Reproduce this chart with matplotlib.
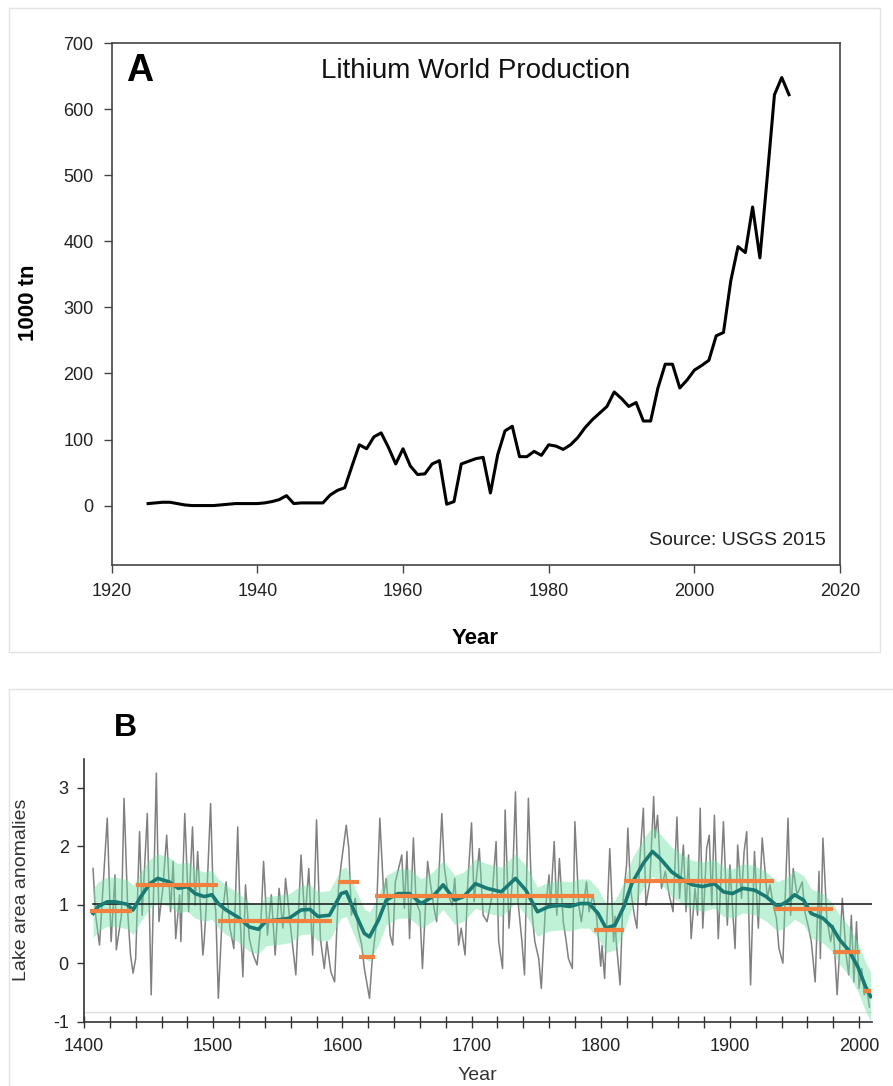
import numpy as np
import matplotlib.pyplot as plt
from matplotlib.patches import Rectangle

plt.rcParams['axes.unicode_minus'] = False

W, H = 893, 1086

# ---- panel A: lithium world production (1000 tn) ----
li_years = list(range(1925, 2014))
li_prod = [3, 4, 5, 5, 3, 1, 0, 0, 0, 0,
           1, 2, 3, 3, 3, 3, 4, 6, 9, 15,
           3, 4, 4, 4, 4, 16, 23, 27, 60, 92,
           86, 104, 110, 88, 63, 86, 60, 47, 48, 63,
           68, 2, 6, 63, 67, 71, 73, 19, 77, 113,
           120, 74, 74, 82, 76, 92, 90, 85, 92, 103,
           118, 130, 140, 150, 172, 162, 150, 156, 128, 128,
           178, 214, 214, 178, 190, 205, 212, 220, 257, 262,
           340, 392, 383, 452, 375, 496, 622, 648, 622]
a_xticks = [1920, 1940, 1960, 1980, 2000, 2020]
a_yticks = [0, 100, 200, 300, 400, 500, 600, 700]

# ---- panel B: lake area anomalies ----
lake_years = [1407, 1409, 1412, 1415, 1418, 1421, 1424, 1425, 1429, 1431,
              1434, 1436, 1438, 1440, 1443, 1445, 1449, 1452, 1456, 1458,
              1461, 1464, 1467, 1469, 1471, 1474, 1475, 1478, 1481, 1484,
              1486, 1488, 1492, 1493, 1495, 1498, 1500, 1502, 1504, 1507,
              1510, 1513, 1516, 1519, 1521, 1523, 1525, 1528, 1531, 1534,
              1537, 1539, 1542, 1545, 1548, 1551, 1554, 1556, 1560, 1564,
              1568, 1571, 1574, 1577, 1580, 1583, 1586, 1588, 1591, 1594,
              1597, 1599, 1603, 1605, 1607, 1610, 1612, 1615, 1617, 1621,
              1623, 1626, 1629, 1632, 1634, 1637, 1639, 1641, 1643, 1646,
              1648, 1650, 1652, 1655, 1657, 1660, 1662, 1666, 1668, 1671,
              1673, 1677, 1679, 1682, 1685, 1687, 1690, 1692, 1695, 1697,
              1700, 1702, 1706, 1709, 1712, 1716, 1719, 1721, 1724, 1726,
              1729, 1732, 1734, 1736, 1739, 1741, 1744, 1747, 1749, 1752,
              1754, 1757, 1760, 1761, 1764, 1766, 1768, 1771, 1773, 1775,
              1778, 1780, 1783, 1785, 1789, 1791, 1794, 1797, 1800, 1801,
              1803, 1807, 1810, 1811, 1812, 1815, 1817, 1820, 1821, 1823,
              1826, 1828, 1830, 1833, 1835, 1838, 1841, 1842, 1844, 1847,
              1850, 1853, 1856, 1859, 1861, 1864, 1866, 1868, 1870, 1873,
              1875, 1877, 1879, 1882, 1884, 1886, 1888, 1891, 1895, 1898,
              1900, 1904, 1906, 1909, 1911, 1913, 1916, 1919, 1922, 1925,
              1929, 1931, 1934, 1936, 1938, 1941, 1945, 1947, 1949, 1952,
              1956, 1958, 1961, 1963, 1966, 1969, 1970, 1972, 1975, 1978,
              1980, 1983, 1985, 1987, 1990, 1992, 1994, 1996, 1998, 2000,
              2002, 2004, 2006, 2008]
lake_vals = [1.62, 0.82, 0.31, 1.39, 2.48, 0.37, 1.51, 0.23, 0.82, 2.82,
             0.82, 0.14, -0.17, 0.08, 2.25, 0.82, 2.56, -0.54, 3.25, 0.71,
             1.28, 2.19, 0.88, 1.74, 0.42, 1.17, 0.37, 2.56, 0.88, 2.33,
             0.99, 1.91, 0.14, 0.37, 1.11, 2.73, 1.17, 0.9, -0.6, 0.82,
             1.39, 0.6, 0.25, 2.33, 0.71, -0.23, 1.34, 0.42, 0.14, -0.03,
             0.71, 1.74, 0.48, 1.17, 0.14, 1.28, 0.6, 1.45, 0.6, -0.2,
             1.85, 0.71, 1.62, 0.14, 2.45, 0.42, -0.09, 0.37, -0.14, -0.32,
             1.28, 1.68, 2.36, 1.96, 0.82, 1.11, 0.6, 0.31, -0.09, -0.6,
             0.03, 0.6, 2.48, 1.17, 1.45, 0.48, 0.31, 1.39, 1.57, 1.85,
             0.94, 1.91, 0.42, 2.14, 1.05, 0.88, -0.09, 1.74, 1.39, 0.94,
             0.71, 2.56, 1.62, 1.17, 0.99, 1.45, 0.31, 0.6, 0.14, 1.34,
             2.4, 1.05, 1.96, 0.82, 0.71, 1.17, 2.08, 0.37, -0.09, 2.62,
             0.6, 1.57, 2.93, 1.05, 0.37, -0.2, 2.82, 0.82, 0.37, 0.08,
             -0.43, 0.88, 1.51, 0.94, 2.08, 0.82, 1.79, 0.71, 0.42, 0.08,
             -0.09, 2.42, 0.99, 0.71, 1.39, 0.88, 1.17, 0.75, -0.05, 0.3,
             -0.26, 1.96, 0.37, 0.8, 0.37, -0.37, 0.99, 1.68, 2.31, 1.28,
             0.82, 0.6, 1.68, 2.65, 0.99, 1.39, 2.85, 2.14, 2.53, 1.28,
             1.57, 1.17, 0.88, 2.5, 1.11, 2.02, 0.88, 1.85, 0.42, 1.28,
             0.82, 2.65, 0.6, 1.96, 2.19, 0.99, 2.53, 0.42, 2.42, 0.65,
             1.68, 0.25, 2.02, 1.11, 1.91, 2.25, -0.37, 1.91, 0.6, 2.14,
             1.11, 1.34, 0.94, 0.77, 0.25, 0.0, 2.48, 0.82, 1.62, 1.17,
             1.39, 0.88, 0.6, 0.37, -0.32, 1.57, 0.08, 2.14, 0.77, 0.37,
             0.65, -0.54, 0.25, 1.11, 0.14, -0.2, 0.82, -0.32, 0.71, -0.43,
             -0.09, -0.54, -0.43, -0.75]

smooth_years = [1407, 1411, 1418, 1424, 1433, 1438, 1444, 1451, 1457, 1466,
                1473, 1480, 1486, 1493, 1499, 1504, 1510, 1519, 1528, 1535,
                1541, 1550, 1559, 1568, 1575, 1581, 1590, 1599, 1603, 1610,
                1617, 1621, 1628, 1634, 1643, 1652, 1661, 1670, 1678, 1687,
                1694, 1703, 1712, 1723, 1734, 1742, 1751, 1760, 1769, 1776,
                1784, 1791, 1798, 1804, 1811, 1818, 1824, 1833, 1840, 1846,
                1855, 1864, 1871, 1879, 1888, 1895, 1902, 1910, 1919, 1928,
                1937, 1944, 1950, 1957, 1963, 1972, 1979, 1985, 1992, 1999,
                2005, 2009]
smooth_vals = [0.85, 0.97, 1.05, 1.05, 1.01, 0.91, 1.14, 1.36, 1.45, 1.39,
               1.28, 1.31, 1.19, 1.14, 1.17, 1.02, 0.91, 0.79, 0.62, 0.58,
               0.72, 0.74, 0.77, 0.91, 0.92, 0.80, 0.82, 1.19, 1.22, 0.85,
               0.51, 0.45, 0.74, 1.08, 1.19, 1.19, 1.02, 1.14, 1.34, 1.08,
               1.14, 1.36, 1.28, 1.22, 1.45, 1.25, 0.88, 0.97, 0.99, 0.97,
               1.02, 1.02, 0.85, 0.60, 0.65, 0.97, 1.36, 1.71, 1.91, 1.79,
               1.56, 1.42, 1.34, 1.31, 1.36, 1.22, 1.19, 1.28, 1.25, 1.14,
               0.97, 1.05, 1.17, 1.08, 0.85, 0.77, 0.62, 0.40, 0.22, -0.06,
               -0.40, -0.57]
band_half = 0.42

# regime means (start, end, level)
seg_start = [1405, 1440, 1504, 1597, 1613, 1625, 1795, 1818, 1934, 1980, 2003]
seg_end = [1437, 1504, 1592, 1613, 1625, 1795, 1818, 1934, 1980, 2001, 2009]
seg_level = [0.90, 1.34, 0.73, 1.38, 0.10, 1.15, 0.56, 1.41, 0.93, 0.20, -0.48]
ref_level = 1.02

b_xticks = [1400, 1500, 1600, 1700, 1800, 1900, 2000]
b_yticks = [-1, 0, 1, 2, 3]


def px_box(left, top, right, bottom):
    return [left / W, 1 - bottom / H, (right - left) / W, (bottom - top) / H]


fig = plt.figure(figsize=(W / 100, H / 100), dpi=100)
sans = ['Liberation Sans', 'DejaVu Sans']

# light panel frames
fig.add_artist(Rectangle((8.5 / W, 1 - 652 / H), (880 - 8.5) / W, (652 - 8.4) / H,
                         transform=fig.transFigure, fill=False, ec='#e2e2e2', lw=1))
fig.add_artist(Rectangle((8.5 / W, -0.01), 1.0, 1 - 689 / H + 0.01,
                         transform=fig.transFigure, fill=False, ec='#e2e2e2', lw=1))

# ---------- A ----------
ax = fig.add_axes(px_box(111.7, 43.2, 840, 565))
ax.plot(li_years, li_prod, color='black', lw=2.2)
ax.set_xlim(1920, 2020)
ax.set_ylim(-90, 700)
ax.set_xticks(a_xticks)
ax.set_yticks(a_yticks)
for s in ax.spines.values():
    s.set_color('#444444')
    s.set_linewidth(1.2)
ax.tick_params(direction='out', length=6, width=1, color='#444444',
               labelsize=13, labelcolor='#222222', pad=7)
for lab in ax.get_xticklabels() + ax.get_yticklabels():
    lab.set_family(sans)
ax.text(0.039, 0.947, 'A', transform=ax.transAxes, ha='center', va='center',
        fontsize=27, fontweight='bold', family=sans)
ax.text(0.5, 0.947, 'Lithium World Production', transform=ax.transAxes,
        ha='center', va='center', fontsize=20, family=sans, color='#111111')
ax.text(0.981, 0.047, 'Source: USGS 2015', transform=ax.transAxes,
        ha='right', va='center', fontsize=14, family=sans, color='#222222')
fig.text(28 / W, 1 - 303 / H, '1000 tn', rotation=90, ha='center', va='center',
         fontsize=16, fontweight='bold', family=sans)
fig.text(475 / W, 1 - 639 / H, 'Year', ha='center', va='center',
         fontsize=16, fontweight='bold', family=sans)

# ---------- B ----------
bx = fig.add_axes(px_box(84, 758.5, 872, 1021.7))
bx.axhline(-0.83, color='#e0e0e0', lw=1, zorder=1)
bx.plot(lake_years, lake_vals, color='#808080', lw=1.1, zorder=2)
sm = np.array(smooth_vals)
bx.fill_between(smooth_years, sm - band_half, sm + band_half,
                color='#6fe0a6', alpha=0.45, lw=0, zorder=3)
bx.plot([smooth_years[0], 2010], [ref_level, ref_level], color='#222222',
        lw=1.2, zorder=4)
bx.plot(smooth_years, smooth_vals, color='#197a74', lw=2.6, zorder=5)
bx.hlines(seg_level, seg_start, seg_end, color='#f2813f', lw=3, zorder=6)
bx.set_xlim(1400, 2010)
bx.set_ylim(-1, 3.5)
bx.spines['top'].set_visible(False)
bx.spines['right'].set_visible(False)
for s in ['left', 'bottom']:
    bx.spines[s].set_color('#333333')
    bx.spines[s].set_linewidth(1.2)
bx.set_xticks(b_xticks)
bx.set_xticks(range(1400, 2011, 20), minor=True)
bx.set_yticks(b_yticks)
bx.tick_params(axis='x', which='both', direction='inout', length=8, width=1,
               color='#333333', labelsize=13, pad=8)
bx.tick_params(axis='y', direction='out', length=5, width=1, color='#333333',
               labelsize=13, pad=6)
for lab in bx.get_xticklabels() + bx.get_yticklabels():
    lab.set_family(sans)
    lab.set_color('#222222')
fig.text(125 / W, 1 - 728 / H, 'B', ha='center', va='center', fontsize=23,
         fontweight='bold', family=sans)
fig.text(22 / W, 1 - 890 / H, 'Lake area anomalies', rotation=90, ha='center',
         va='center', fontsize=14, family=sans, color='#333333')
fig.text(477 / W, 1 - 1084 / H, 'Year', ha='center', va='bottom', fontsize=14,
         family=sans, color='#333333')

fig.savefig('out.png', dpi=100)
